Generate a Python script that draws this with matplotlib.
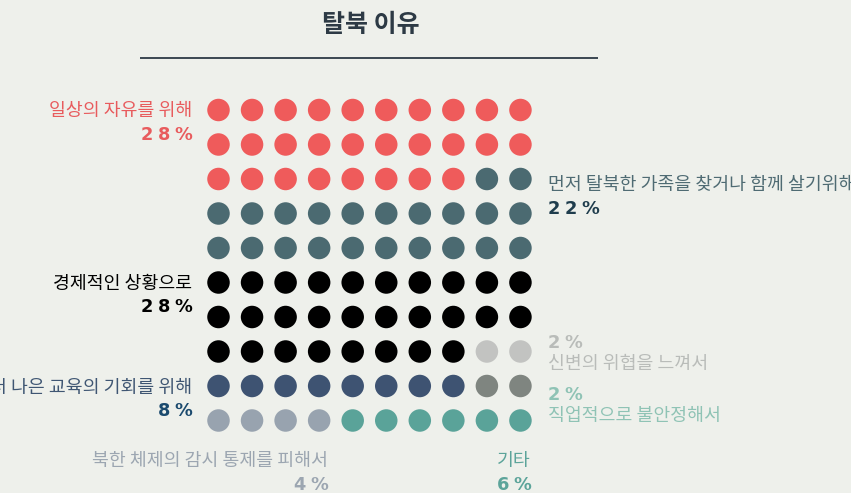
import matplotlib
matplotlib.use("Agg")
import matplotlib.pyplot as plt
import numpy as np

plt.rcParams['font.family'] = ['Noto Sans CJK KR', 'DejaVu Sans']

# ---- data ----
categories = ["일상의 자유를 위해", "먼저 탈북한 가족을 찾거나 함께 살기위해", "경제적인 상황으로",
              "신변의 위협을 느껴서", "더 나은 교육의 기회를 위해", "직업적으로 불안정해서",
              "북한 체제의 감시 통제를 피해서", "기타"]
values = [28, 22, 28, 2, 8, 2, 4, 6]
dot_colors = ["#ef5b5b", "#4b6a71", "#000000", "#c2c3c1", "#3e5372", "#7f8580", "#98a3af", "#5aa399"]
label_colors = ["#e85b5d", "#4f6b73", "#000000", "#b9bcb9", "#3f5673", "#8fc3b5", "#9ca6b1", "#5ca49a"]
pct_colors = ["#e85b5d", "#1f3d4d", "#000000", "#b9bcb9", "#1b4a6e", "#8fc3b5", "#9ca6b1", "#5ca49a"]
title = "탈북 이유"

W, H = 851, 493
bg = "#eef0eb"
fig = plt.figure(figsize=(W / 100, H / 100), dpi=100, facecolor=bg)
ax = fig.add_axes([0, 0, 1, 1])
ax.set_xlim(0, W)
ax.set_ylim(H, 0)
ax.axis("off")
ax.set_facecolor(bg)

# waffle grid positions
ncols, nrows = 10, 10
x0, dx = 218.5, 33.55
y0, dy = 110, 34.5
cols_list = []
for v, c in zip(values, dot_colors):
    cols_list += [c] * v
idx = np.arange(len(cols_list))
xs = x0 + (idx % ncols) * dx
ys = y0 + (idx // ncols) * dy
diam_pt = 22.5 * 72 / 100
ax.scatter(xs, ys, s=diam_pt ** 2, c=cols_list, linewidths=0, zorder=3)

# title and rule
ax.text(371, 25.5, title, ha="center", va="center", fontsize=18, fontweight="bold", color="#2d3a45")
ax.plot([140, 598], [58, 58], color="#2d3a45", lw=1.3, solid_capstyle="butt")

fig.canvas.draw()
renderer = fig.canvas.get_renderer()


def spaced(x, y, s, color, ha="left", size=12.8, spacing=4.2):
    # draw characters with letter spacing (pixel units)
    widths = []
    for ch in s:
        t = ax.text(0, 0, ch, fontsize=size, fontweight="bold", family=["DejaVu Sans"])
        bb = t.get_window_extent(renderer)
        widths.append(bb.width)
        t.remove()
    total = sum(widths) + spacing * (len(s) - 1)
    start = x - total if ha == "right" else x
    cx = start
    for ch, w in zip(s, widths):
        ax.text(cx, y + 1.5, ch, fontsize=size, fontweight="bold", family=["DejaVu Sans"],
                color=color, ha="left", va="center")
        cx += w + spacing


fs = 13.2


def label(x, y, s, color, ha):
    ax.text(x, y + 3, s, ha=ha, va="center", fontsize=fs, color=color, fontweight="medium")


# 일상의 자유를 위해
label(192, 108, categories[0], label_colors[0], "right")
spaced(192, 133, f"{values[0]}%", pct_colors[0], ha="right")
# 먼저 탈북한 ...
label(548, 182, categories[1], label_colors[1], "left")
spaced(548, 207, f"{values[1]}%", pct_colors[1])
# 경제적인 상황으로
label(192, 281, categories[2], label_colors[2], "right")
spaced(192, 306, f"{values[2]}%", pct_colors[2], ha="right")
# 신변의 위협
spaced(548, 341, f"{values[3]}%", pct_colors[3])
label(548, 361, categories[3], label_colors[3], "left")
# 교육
label(192, 385, categories[4], label_colors[4], "right")
spaced(192, 410, f"{values[4]}%", pct_colors[4], ha="right")
# 직업
spaced(548, 393, f"{values[5]}%", pct_colors[5])
label(548, 413, categories[5], label_colors[5], "left")
# 감시 통제
label(328, 458, categories[6], label_colors[6], "right")
spaced(328, 483, f"{values[6]}%", pct_colors[6], ha="right")
# 기타
label(531, 458, categories[7], label_colors[7], "right")
spaced(531, 483, f"{values[7]}%", pct_colors[7], ha="right")

fig.savefig("out.png", dpi=100, facecolor=bg)
